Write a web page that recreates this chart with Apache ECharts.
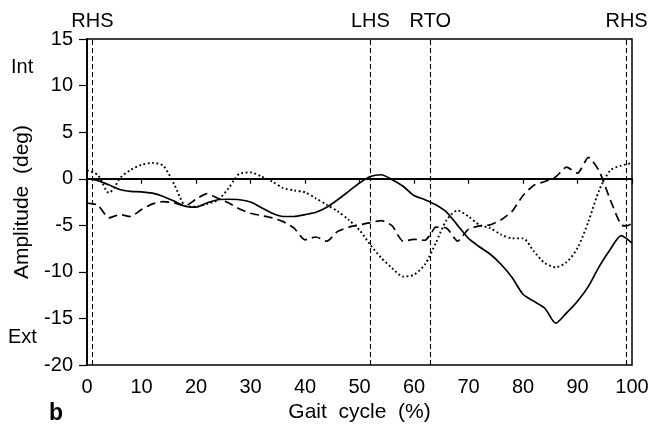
<!DOCTYPE html>
<html>
<head>
<meta charset="utf-8">
<script src="https://cdn.jsdelivr.net/npm/echarts@6/dist/echarts.min.js"></script>
<style>html,body{margin:0;padding:0;background:#fff}#c{width:652px;height:428px}</style>
</head>
<body>
<div id="c"></div>
<script>
// Gait cycle (%) and amplitude (deg) for each curve
var solidPct = [0,2,4,6,8,10,12,14,16,18,20,22,24,26,28,30,32,34,36,38,40,42,44,46,48,50,52,54,56,58,60,62,64,66,68,70,72,74,76,78,80,82,84,86,88,90,92,94,96,98,100];
var solidDeg = [0,-0.2,-0.65,-1.15,-1.35,-1.4,-1.55,-1.9,-2.4,-2.95,-3.05,-2.6,-2.25,-2.2,-2.25,-2.5,-3.1,-3.7,-4.05,-4.05,-3.85,-3.6,-3.05,-2.25,-1.35,-0.45,0.25,0.43,-0.1,-0.8,-1.8,-2.25,-2.8,-3.6,-5.0,-6.4,-7.3,-8.1,-9.2,-10.6,-12.4,-13.15,-13.9,-15.5,-14.4,-13.15,-11.55,-9.4,-7.6,-6.1,-6.9];

var dashPct = [0,1,2,4,6,8,10,12,14,16,18,20,22,24,26,28,30,32,34,36,38,40,42,44,46,48,50,52,54,56,58,60,62,63,64,66,68,70,72,74,76,78,80,82,84,86,88,90,92,94,96,98,99,100];
var dashDeg = [-2.6,-2.7,-2.8,-4.2,-3.85,-4.05,-3.3,-2.7,-2.45,-2.6,-2.9,-2.2,-1.6,-2.1,-2.6,-3.25,-3.7,-3.95,-4.2,-4.6,-5.3,-6.55,-6.25,-6.7,-5.65,-5.2,-4.95,-4.7,-4.5,-5.05,-6.7,-6.5,-6.6,-6.0,-5.2,-5.3,-6.7,-5.4,-5.05,-4.95,-4.4,-3.5,-1.8,-0.7,-0.3,0.2,1.25,0.6,2.3,0.8,-2.25,-4.95,-5.05,-4.8];

var dotPct = [0,2,4,5,6,8,10,12,14,16,17,18,20,22,24,26,27,28,30,32,34,36,38,40,42,44,46,48,50,52,54,56,58,60,62,64,66,68,70,72,74,76,78,80,82,84,86,88,90,92,94,96,98,100];
var dotDeg = [0.9,0.4,-1.5,-1.0,0.05,0.95,1.5,1.7,1.4,-0.6,-1.9,-2.9,-3.0,-2.7,-2.3,-1.0,-0.1,0.55,0.68,0.25,-0.3,-1.0,-1.25,-1.45,-2.1,-2.8,-3.5,-4.4,-5.5,-7.1,-8.5,-9.6,-10.5,-10.3,-9.2,-6.9,-4.4,-3.4,-4.05,-4.95,-5.3,-6.0,-6.4,-6.4,-7.8,-9.05,-9.5,-8.95,-7.45,-4.6,-1.2,0.9,1.4,1.7];

// Gait events
var eventPct = [1, 52, 63, 99];
var eventNames = ['RHS', 'LHS', 'RTO', 'RHS'];

// Axis ticks
var xTicks = {min: 0, max: 100, interval: 10};
var yTicks = {min: -20, max: 15, interval: 5};

function pairs(xs, ys) { return xs.map(function (x, i) { return [x, ys[i]]; }); }

var FONT = 'Liberation Sans';
var chart = echarts.init(document.getElementById('c'), null, {renderer: 'canvas'});
chart.setOption({
  animation: false,
  backgroundColor: '#fff',
  grid: {left: 87, right: 20, top: 39, bottom: 62, show: true, borderColor: '#000', borderWidth: 1.5, backgroundColor: 'transparent'},
  xAxis: {
    type: 'value', min: xTicks.min, max: xTicks.max, interval: xTicks.interval,
    name: 'Gait  cycle  (%)', nameLocation: 'middle', nameGap: 36,
    nameTextStyle: {fontFamily: FONT, fontSize: 21, color: '#000'},
    axisLine: {show: true, lineStyle: {color: '#000', width: 1.8}},
    axisTick: {show: true, length: 5, lineStyle: {color: '#000', width: 1.2}},
    axisLabel: {fontFamily: FONT, fontSize: 20, color: '#000', margin: 12},
    splitLine: {show: false}
  },
  yAxis: {
    type: 'value', min: yTicks.min, max: yTicks.max, interval: yTicks.interval,
    name: 'Amplitude  (deg)', nameLocation: 'middle', nameGap: 53,
    nameTextStyle: {fontFamily: FONT, fontSize: 21, color: '#000'},
    axisLine: {show: true, onZero: false, lineStyle: {color: '#000', width: 1.8}},
    axisTick: {show: true, length: 8, lineStyle: {color: '#000', width: 1.2}},
    axisLabel: {fontFamily: FONT, fontSize: 20, color: '#000', margin: 14},
    splitLine: {show: false}
  },
  graphic: [
    {type: 'text', left: 11, top: 57, style: {text: 'Int', font: '20px "Liberation Sans"', fill: '#000'}},
    {type: 'text', left: 8, top: 327, style: {text: 'Ext', font: '20px "Liberation Sans"', fill: '#000'}},
    {type: 'text', left: 49, top: 402, style: {text: 'b', font: 'bold 23px "Liberation Sans"', fill: '#000'}}
  ],
  series: [
    {
      type: 'line', data: pairs(solidPct, solidDeg), smooth: 0.25, symbol: 'none',
      lineStyle: {color: '#000', width: 1.7, type: 'solid'},
      markLine: {
        silent: true, symbol: 'none', animation: false,
        data: eventPct.map(function (p, i) {
          return {xAxis: p, name: eventNames[i],
            lineStyle: {color: '#000', width: 1.1, type: [5, 3]},
            label: {show: true, position: 'end', formatter: '{b}', distance: 8, fontFamily: FONT, fontSize: 20, color: '#000'}};
        }).concat([{yAxis: 0, lineStyle: {color: '#000', width: 1, type: 'solid'}, label: {show: false}}])
      }
    },
    {
      type: 'line', data: pairs(dashPct, dashDeg), smooth: 0.2, symbol: 'none',
      lineStyle: {color: '#000', width: 1.7, type: [9, 5]}
    },
    {
      type: 'line', data: pairs(dotPct, dotDeg), smooth: 0.25, symbol: 'none',
      lineStyle: {color: '#000', width: 1.9, type: [1.8, 2.6]}
    }
  ]
});
</script>
</body>
</html>
